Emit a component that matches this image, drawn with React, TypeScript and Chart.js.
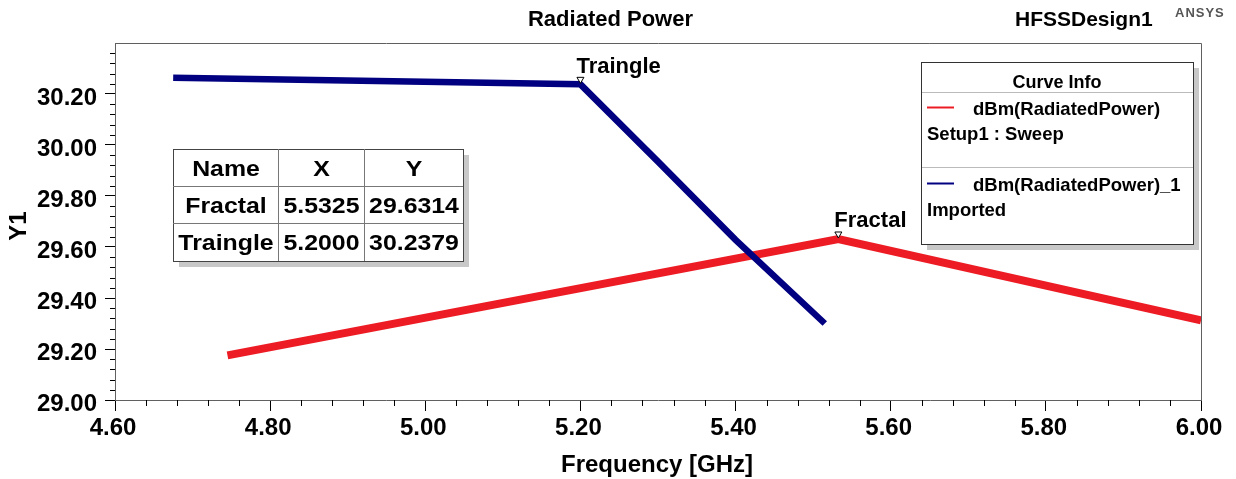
import React, { useEffect, useRef } from 'react';
import { Chart, registerables } from 'chart.js';

Chart.register(...registerables);

const FONT = "'Liberation Sans', Arial, Helvetica, sans-serif";
const RED = '#ED1C24';
const BLUE = '#000080';

// Curve data (Frequency [GHz] -> dBm(RadiatedPower))
const fractalFreq = [4.745, 5.5325, 6.0];
const fractalDbm = [29.175, 29.6314, 29.312];
const traingleFreq = [4.675, 5.2, 5.3, 5.4, 5.515];
const traingleDbm = [30.264, 30.2379, 29.935, 29.628, 29.3];

// Axis ticks
const xTicks = [4.6, 4.8, 5.0, 5.2, 5.4, 5.6, 5.8, 6.0];
const yTicks = [29.0, 29.2, 29.4, 29.6, 29.8, 30.0, 30.2];

// Markers
const markerNames = ['Fractal', 'Traingle'];
const markerX = [5.5325, 5.2];
const markerY = [29.6314, 30.2379];

// Legend
const legendNames = ['dBm(RadiatedPower)', 'dBm(RadiatedPower)_1'];
const legendSub = ['Setup1 : Sweep', 'Imported'];
const legendColors = [RED, BLUE];

const decor = {
  id: 'decor',
  afterDraw(chart: any) {
    const { ctx, chartArea: a, scales } = chart;
    const xs = scales.x;
    const ys = scales.y;
    ctx.save();

    // top & right frame
    ctx.strokeStyle = '#606060';
    ctx.lineWidth = 1;
    ctx.beginPath();
    ctx.moveTo(a.left, a.top + 0.5);
    ctx.lineTo(a.right + 0.5, a.top + 0.5);
    ctx.lineTo(a.right + 0.5, a.bottom);
    ctx.stroke();

    // minor ticks
    ctx.strokeStyle = '#000';
    ctx.beginPath();
    for (let i = 0; i <= 35; i++) {
      if (i % 5 === 0) continue;
      const px = Math.round(xs.getPixelForValue(4.6 + i * 0.04)) + 0.5;
      ctx.moveTo(px, a.bottom);
      ctx.lineTo(px, a.bottom + 6);
      const py = Math.round(ys.getPixelForValue(29.0 + i * 0.04)) + 0.5;
      ctx.moveTo(a.left - 5, py);
      ctx.lineTo(a.left, py);
    }
    ctx.stroke();

    // markers
    for (let i = 0; i < markerNames.length; i++) {
      const px = xs.getPixelForValue(markerX[i]);
      const py = ys.getPixelForValue(markerY[i]);
      ctx.beginPath();
      ctx.moveTo(px, py - 1);
      ctx.lineTo(px - 3.5, py - 7);
      ctx.lineTo(px + 3.5, py - 7);
      ctx.closePath();
      ctx.fillStyle = '#fff';
      ctx.fill();
      ctx.strokeStyle = '#000';
      ctx.lineWidth = 1;
      ctx.stroke();
      ctx.fillStyle = '#000';
      ctx.font = `bold 22px ${FONT}`;
      ctx.textAlign = 'left';
      ctx.textBaseline = 'alphabetic';
      ctx.fillText(markerNames[i], px - 4, py - 11.5);
    }

    // marker table
    const tx = 173, ty = 149;
    const cw = [105, 86, 99];
    const rh = [37, 37, 38];
    const tw = cw[0] + cw[1] + cw[2];
    const th = rh[0] + rh[1] + rh[2];
    ctx.fillStyle = '#c8c8c8';
    ctx.fillRect(tx + 6, ty + 6, tw, th);
    ctx.fillStyle = '#fff';
    ctx.fillRect(tx, ty, tw, th);
    ctx.strokeStyle = '#444';
    ctx.lineWidth = 1;
    ctx.strokeRect(tx + 0.5, ty + 0.5, tw, th);
    ctx.beginPath();
    let cx = tx;
    for (let c = 0; c < 2; c++) {
      cx += cw[c];
      ctx.moveTo(cx + 0.5, ty);
      ctx.lineTo(cx + 0.5, ty + th);
    }
    let ry = ty;
    for (let r = 0; r < 2; r++) {
      ry += rh[r];
      ctx.moveTo(tx, ry + 0.5);
      ctx.lineTo(tx + tw, ry + 0.5);
    }
    ctx.strokeStyle = '#777';
    ctx.stroke();
    const rows = [
      ['Name', 'X', 'Y'],
      ...markerNames.map((n, i) => [n, markerX[i].toFixed(4), markerY[i].toFixed(4)]),
    ];
    ctx.fillStyle = '#000';
    ctx.font = `bold 22px ${FONT}`;
    ctx.textAlign = 'center';
    ctx.textBaseline = 'alphabetic';
    ry = ty;
    for (let r = 0; r < rows.length; r++) {
      let cxx = tx;
      for (let c = 0; c < 3; c++) {
        const centerX = cxx + cw[c] / 2 + 0.5;
        ctx.save();
        ctx.translate(centerX, ry + rh[r] / 2 + 8);
        ctx.scale(1.13, 1);
        ctx.fillText(rows[r][c], 0, 0);
        ctx.restore();
        cxx += cw[c];
      }
      ry += rh[r];
    }

    // legend box
    const lx = 921, ly = 62, lw = 272, lh = 182;
    ctx.fillStyle = '#c8c8c8';
    ctx.fillRect(lx + 6, ly + 6, lw, lh);
    ctx.fillStyle = '#fff';
    ctx.fillRect(lx, ly, lw, lh);
    ctx.strokeStyle = '#333';
    ctx.strokeRect(lx + 0.5, ly + 0.5, lw, lh);
    ctx.strokeStyle = '#bbb';
    ctx.beginPath();
    ctx.moveTo(lx + 1, 92.5);
    ctx.lineTo(lx + lw, 92.5);
    ctx.moveTo(lx + 1, 167.5);
    ctx.lineTo(lx + lw, 167.5);
    ctx.stroke();
    ctx.fillStyle = '#000';
    ctx.font = `bold 18px ${FONT}`;
    ctx.textAlign = 'center';
    ctx.fillText('Curve Info', lx + lw / 2, 87.5);
    const entryTop = [100, 176];
    for (let i = 0; i < legendNames.length; i++) {
      const base = entryTop[i];
      ctx.strokeStyle = legendColors[i];
      ctx.lineWidth = 2;
      ctx.beginPath();
      ctx.moveTo(927, base + 7.5);
      ctx.lineTo(954, base + 7.5);
      ctx.stroke();
      ctx.fillStyle = '#000';
      ctx.font = `bold 18.5px ${FONT}`;
      ctx.textAlign = 'left';
      ctx.fillText(legendNames[i], 973, base + 15);
      ctx.fillText(legendSub[i], 927, base + 40);
    }

    // titles
    ctx.fillStyle = '#000';
    ctx.font = `bold 22px ${FONT}`;
    ctx.textAlign = 'center';
    ctx.fillText('Radiated Power', 610.5, 26);
    ctx.font = `bold 21px ${FONT}`;
    ctx.textAlign = 'left';
    ctx.fillText('HFSSDesign1', 1015, 26);
    ctx.fillStyle = '#555';
    ctx.font = `bold 13px ${FONT}`;
    (ctx as any).letterSpacing = '1px';
    ctx.fillText('ANSYS', 1175, 17);
    (ctx as any).letterSpacing = '0px';

    // axis titles
    ctx.fillStyle = '#000';
    ctx.font = `bold 24px ${FONT}`;
    ctx.textAlign = 'center';
    ctx.fillText('Frequency [GHz]', 657, 472);
    ctx.save();
    ctx.translate(26, 226);
    ctx.rotate(-Math.PI / 2);
    ctx.fillText('Y1', 0, 0);
    ctx.restore();

    ctx.restore();
  },
};

export default function App() {
  const ref = useRef<HTMLCanvasElement>(null);
  useEffect(() => {
    const canvas = ref.current;
    if (!canvas) return;
    const tickFont = { family: FONT, size: 24, weight: 'bold' as const };
    const chart = new Chart(canvas, {
      type: 'line',
      data: {
        datasets: [
          {
            label: legendNames[1],
            data: traingleFreq.map((f, i) => ({ x: f, y: traingleDbm[i] })),
            borderColor: BLUE,
            borderWidth: 6.5,
            pointRadius: 0,
            tension: 0,
            order: 0,
            clip: 0,
          },
          {
            label: legendNames[0],
            data: fractalFreq.map((f, i) => ({ x: f, y: fractalDbm[i] })),
            borderColor: RED,
            borderWidth: 8,
            pointRadius: 0,
            tension: 0,
            order: 1,
            clip: 0,
          },
        ],
      },
      options: {
        animation: false,
        responsive: false,
        events: [],
        layout: { padding: { left: 0, right: 35, top: 43, bottom: 0 } },
        plugins: {
          legend: { display: false },
          tooltip: { enabled: false },
          title: { display: false },
        },
        scales: {
          x: {
            type: 'linear',
            min: 4.6,
            max: 6.0,
            afterBuildTicks: (s: any) => {
              s.ticks = xTicks.map((v) => ({ value: v }));
            },
            afterFit: (s: any) => {
              s.height = 79;
            },
            ticks: {
              callback: (v: any) => Number(v).toFixed(2),
              font: tickFont,
              color: '#000',
              padding: 3,
              labelOffset: -2,
              maxRotation: 0,
              autoSkip: false,
            },
            grid: {
              drawOnChartArea: false,
              drawTicks: true,
              tickLength: 11,
              tickColor: '#000',
              tickWidth: 1,
            },
            border: { display: true, color: '#606060', width: 1 },
          },
          y: {
            type: 'linear',
            min: 29.0,
            max: 30.4,
            afterBuildTicks: (s: any) => {
              s.ticks = yTicks.map((v) => ({ value: v }));
            },
            afterFit: (s: any) => {
              s.width = 115;
            },
            ticks: {
              callback: (v: any) => Number(v).toFixed(2),
              font: tickFont,
              color: '#000',
              padding: 8,
              labelOffset: 4,
              autoSkip: false,
            },
            grid: {
              drawOnChartArea: false,
              drawTicks: true,
              tickLength: 10,
              tickColor: '#000',
              tickWidth: 1,
            },
            border: { display: true, color: '#606060', width: 1 },
          },
        },
      },
      plugins: [decor],
    });
    return () => chart.destroy();
  }, []);
  return (
    <div style={{ position: 'absolute', left: 0, top: 0, width: 1236, height: 479, background: '#fff' }}>
      <canvas ref={ref} width={1236} height={479} style={{ display: 'block', width: 1236, height: 479 }} />
    </div>
  );
}
